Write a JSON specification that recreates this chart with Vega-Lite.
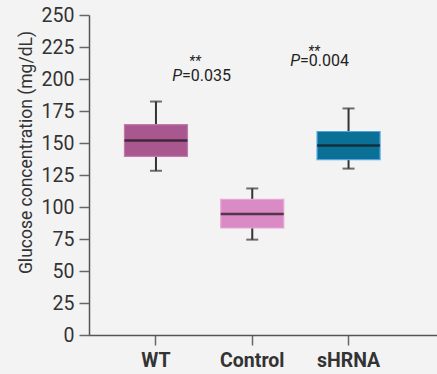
{
  "$schema": "https://vega.github.io/schema/vega-lite/v6.json",
  "width": 348,
  "height": 320,
  "autosize": {"type": "none"},
  "padding": {"left": 89, "top": 15, "right": 0, "bottom": 39},
  "background": "#f3f3f3",
  "config": {
    "view": {"stroke": null},
    "font": "Roboto",
    "axis": {"grid": false, "domainColor": "#555555", "domainWidth": 1.5, "tickColor": "#666666", "tickWidth": 1.5, "tickSize": 10, "labelColor": "#333333", "titleColor": "#333333", "labelFont": "Roboto", "titleFont": "Roboto", "labelOverlap": false}
  },
  "datasets": {
    "boxes": [
      {"group": "WT", "lower": 128.3, "q1": 139.5, "median": 152, "q3": 164.4, "upper": 182.4},
      {"group": "Control", "lower": 74.5, "q1": 83.6, "median": 94.5, "q3": 106, "upper": 114.5},
      {"group": "sHRNA", "lower": 130, "q1": 137, "median": 148, "q3": 159, "upper": 177}
    ],
    "ann1": [{"group": "WT", "stars": "**", "p": "P", "val": "=0.035", "ystar": 210, "yp": 202}],
    "ann2": [{"group": "sHRNA", "stars": "**", "p": "P", "val": "=0.004", "ystar": 218, "yp": 213.7}]
  },
  "encoding": {
    "x": {
      "field": "group", "type": "nominal",
      "scale": {"type": "band", "domain": ["WT", "Control", "sHRNA"], "paddingInner": 0.4, "paddingOuter": 0.507, "align": 0.39},
      "axis": {"title": null, "labelAngle": 0, "labelFontSize": 19.5, "labelFontWeight": "bold", "labelPadding": 6}
    }
  },
  "layer": [
    {
      "data": {"name": "boxes"},
      "mark": {"type": "rule", "color": "#333333", "strokeWidth": 2},
      "encoding": {
        "y": {"field": "lower", "type": "quantitative", "scale": {"domain": [0, 250], "nice": false},
          "axis": {"title": "Glucose concentration (mg/dL)", "titleFontSize": 17.5, "titleFontWeight": "normal", "titleY": 137, "labelFontSize": 19.5, "values": [0,25,50,75,100,125,150,175,200,225,250], "labelOverlap": false, "labelPadding": 5, "titlePadding": 6}},
        "y2": {"field": "upper"}
      }
    },
    {
      "data": {"name": "boxes"},
      "mark": {"type": "tick", "color": "#333333", "thickness": 2, "size": 12},
      "encoding": {"y": {"field": "lower", "type": "quantitative",
          "axis": {"title": "Glucose concentration (mg/dL)", "titleFontSize": 17.5, "titleFontWeight": "normal", "titleY": 137, "labelFontSize": 19.5, "values": [0,25,50,75,100,125,150,175,200,225,250], "labelOverlap": false, "labelPadding": 5, "titlePadding": 6}}}
    },
    {
      "data": {"name": "boxes"},
      "mark": {"type": "tick", "color": "#333333", "thickness": 2, "size": 12},
      "encoding": {"y": {"field": "upper", "type": "quantitative",
          "axis": {"title": "Glucose concentration (mg/dL)", "titleFontSize": 17.5, "titleFontWeight": "normal", "titleY": 137, "labelFontSize": 19.5, "values": [0,25,50,75,100,125,150,175,200,225,250], "labelOverlap": false, "labelPadding": 5, "titlePadding": 6}}}
    },
    {
      "data": {"name": "boxes"},
      "mark": {"type": "bar", "size": 63, "strokeWidth": 1.2, "opacity": 1},
      "encoding": {
        "y": {"field": "q1", "type": "quantitative",
          "axis": {"title": "Glucose concentration (mg/dL)", "titleFontSize": 17.5, "titleFontWeight": "normal", "titleY": 137, "labelFontSize": 19.5, "values": [0,25,50,75,100,125,150,175,200,225,250], "labelOverlap": false, "labelPadding": 5, "titlePadding": 6}},
        "y2": {"field": "q3"},
        "fill": {"field": "group", "type": "nominal", "scale": {"domain": ["WT", "Control", "sHRNA"], "range": ["#a8578f", "#da8bc5", "#0b7095"]}, "legend": null},
        "stroke": {"field": "group", "type": "nominal", "scale": {"domain": ["WT", "Control", "sHRNA"], "range": ["#c07aac", "#e6a6d6", "#52a6e6"]}, "legend": null}
      }
    },
    {
      "data": {"name": "boxes"},
      "mark": {"type": "tick", "color": "#151515", "thickness": 2.5, "size": 63},
      "encoding": {"y": {"field": "median", "type": "quantitative",
          "axis": {"title": "Glucose concentration (mg/dL)", "titleFontSize": 17.5, "titleFontWeight": "normal", "titleY": 137, "labelFontSize": 19.5, "values": [0,25,50,75,100,125,150,175,200,225,250], "labelOverlap": false, "labelPadding": 5, "titlePadding": 6}}}
    },
    {
      "data": {"name": "ann1"},
      "mark": {"type": "text", "fontSize": 14, "fontStyle": "italic", "color": "#222222", "align": "center", "baseline": "alphabetic", "dx": 39},
      "encoding": {"y": {"field": "ystar", "type": "quantitative", "axis": {"title": "Glucose concentration (mg/dL)", "titleFontSize": 17.5, "titleFontWeight": "normal", "titleY": 137, "labelFontSize": 19.5, "values": [0,25,50,75,100,125,150,175,200,225,250], "labelOverlap": false, "labelPadding": 5, "titlePadding": 6}}, "text": {"field": "stars"}}
    },
    {
      "data": {"name": "ann1"},
      "mark": {"type": "text", "fontSize": 16, "fontStyle": "italic", "color": "#222222", "align": "right", "baseline": "middle", "dx": 26},
      "encoding": {"y": {"field": "yp", "type": "quantitative", "axis": {"title": "Glucose concentration (mg/dL)", "titleFontSize": 17.5, "titleFontWeight": "normal", "titleY": 137, "labelFontSize": 19.5, "values": [0,25,50,75,100,125,150,175,200,225,250], "labelOverlap": false, "labelPadding": 5, "titlePadding": 6}}, "text": {"field": "p"}}
    },
    {
      "data": {"name": "ann1"},
      "mark": {"type": "text", "fontSize": 16, "color": "#222222", "align": "left", "baseline": "middle", "dx": 26},
      "encoding": {"y": {"field": "yp", "type": "quantitative", "axis": {"title": "Glucose concentration (mg/dL)", "titleFontSize": 17.5, "titleFontWeight": "normal", "titleY": 137, "labelFontSize": 19.5, "values": [0,25,50,75,100,125,150,175,200,225,250], "labelOverlap": false, "labelPadding": 5, "titlePadding": 6}}, "text": {"field": "val"}}
    },
    {
      "data": {"name": "ann2"},
      "mark": {"type": "text", "fontSize": 14, "fontStyle": "italic", "color": "#222222", "align": "center", "baseline": "alphabetic", "dx": -34.6},
      "encoding": {"y": {"field": "ystar", "type": "quantitative", "axis": {"title": "Glucose concentration (mg/dL)", "titleFontSize": 17.5, "titleFontWeight": "normal", "titleY": 137, "labelFontSize": 19.5, "values": [0,25,50,75,100,125,150,175,200,225,250], "labelOverlap": false, "labelPadding": 5, "titlePadding": 6}}, "text": {"field": "stars"}}
    },
    {
      "data": {"name": "ann2"},
      "mark": {"type": "text", "fontSize": 16, "fontStyle": "italic", "color": "#222222", "align": "right", "baseline": "middle", "dx": -48.6},
      "encoding": {"y": {"field": "yp", "type": "quantitative", "axis": {"title": "Glucose concentration (mg/dL)", "titleFontSize": 17.5, "titleFontWeight": "normal", "titleY": 137, "labelFontSize": 19.5, "values": [0,25,50,75,100,125,150,175,200,225,250], "labelOverlap": false, "labelPadding": 5, "titlePadding": 6}}, "text": {"field": "p"}}
    },
    {
      "data": {"name": "ann2"},
      "mark": {"type": "text", "fontSize": 16, "color": "#222222", "align": "left", "baseline": "middle", "dx": -48.6},
      "encoding": {"y": {"field": "yp", "type": "quantitative", "axis": {"title": "Glucose concentration (mg/dL)", "titleFontSize": 17.5, "titleFontWeight": "normal", "titleY": 137, "labelFontSize": 19.5, "values": [0,25,50,75,100,125,150,175,200,225,250], "labelOverlap": false, "labelPadding": 5, "titlePadding": 6}}, "text": {"field": "val"}}
    }
  ]
}
